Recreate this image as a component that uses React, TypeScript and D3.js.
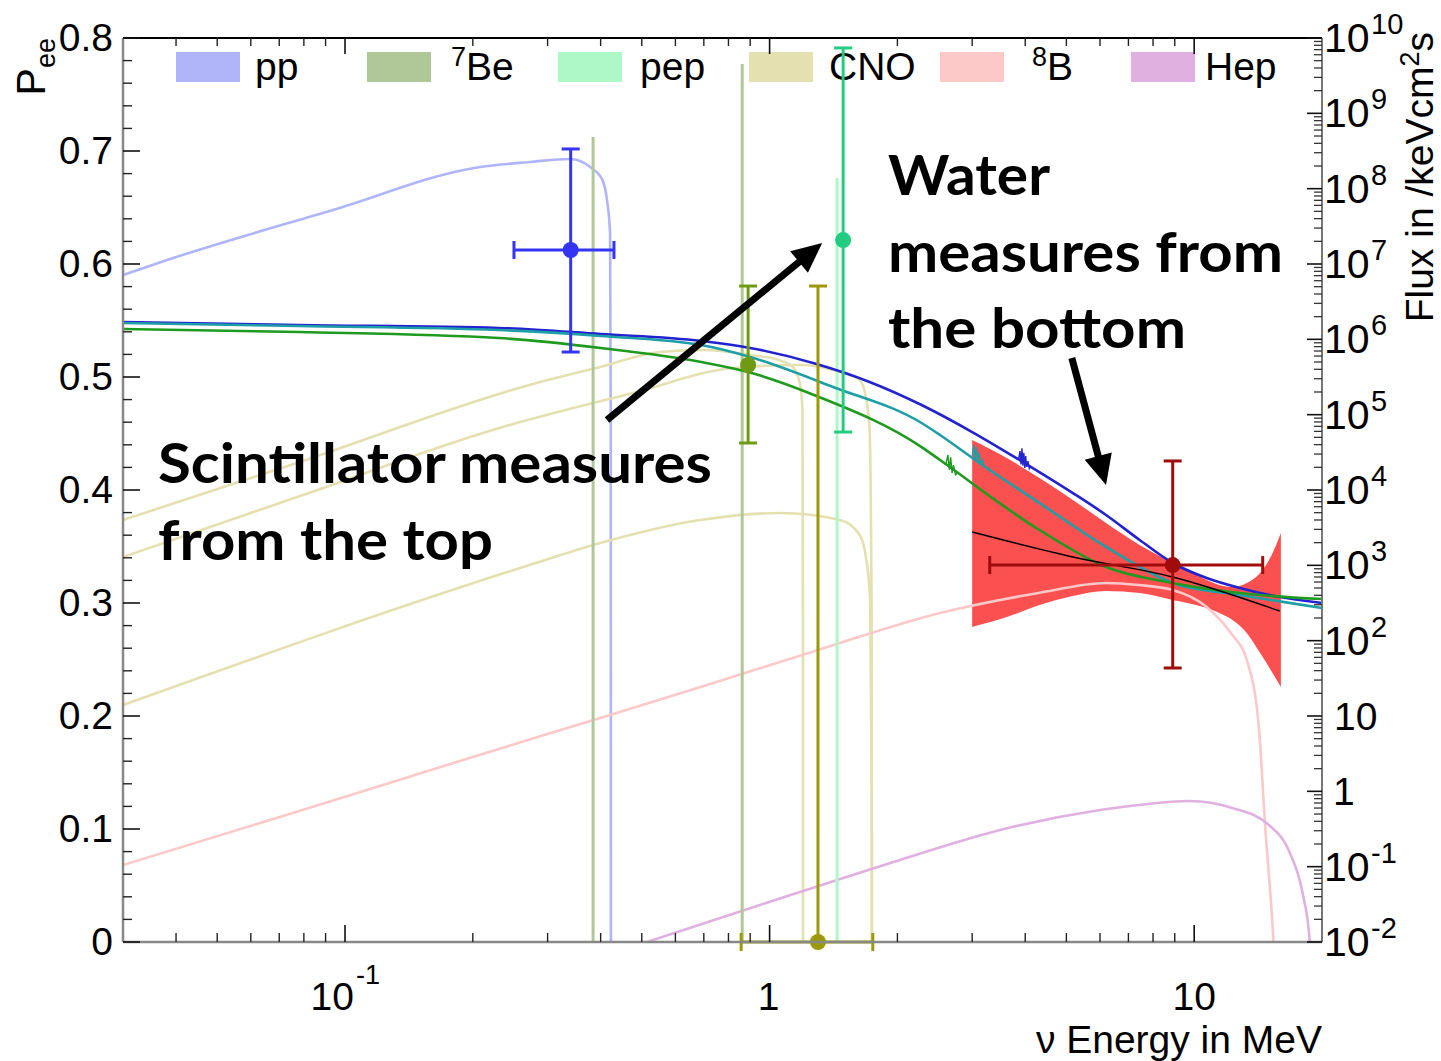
import React from "react";
import * as d3 from "d3";

// ---------- axes ----------
const energyDomain = [0.03, 20];
const peeDomain = [0, 0.8];
const fluxDomain = [1e-2, 1e10];
const energyMajorTicks = [0.1, 1, 10];
const peeMajorTicks = [0, 0.1, 0.2, 0.3, 0.4, 0.5, 0.6, 0.7, 0.8];
const fluxExponents = [-2, -1, 0, 1, 2, 3, 4, 5, 6, 7, 8, 9, 10];

// ---------- legend ----------
const legendNames = ["pp", "7Be", "pep", "CNO", "8B", "Hep"];
const legendColors = ["#b0b4f8", "#b0c898", "#aef8c8", "#e4e0b0", "#fcc8c8", "#e0b0e0"];

// ---------- flux spectra (E in MeV, flux) ----------
const ppEnergy = [0.03, 0.0381, 0.0937, 0.208, 0.273, 0.339, 0.378, 0.404, 0.414, 0.421, 0.4225, 0.423];
const ppFlux = [7.14e6, 1.13e7, 5.21e7, 1.94e8, 2.26e8, 2.48e8, 1.94e8, 1.3e8, 7.08e7, 2.58e7, 1e5, 1e-3];

const be7LineEnergy = [0.384, 0.862];
const be7LineFlux = [4.85e8, 4.5e9];
const pepLineEnergy = [1.442];
const pepLineFlux = [1.39e8];

const n13Energy = [0.03, 0.0783, 0.272, 0.399, 0.552, 0.7, 0.9, 1.05, 1.134, 1.178, 1.195, 1.1985, 1.199];
const n13Flux = [4.0e3, 2.36e4, 2.48e5, 4.3e5, 6.79e5, 7.22e5, 6.19e5, 5.32e5, 4.3e5, 2.63e5, 1.15e5, 1e2, 1e-3];

const o15Energy = [0.03, 0.0783, 0.231, 0.477, 0.82, 1.178, 1.41, 1.63, 1.69, 1.72, 1.74, 1.742];
const o15Flux = [1.29e3, 8.3e3, 6.65e4, 1.94e5, 4.17e5, 4.56e5, 3.92e5, 2.89e5, 1.57e5, 6.27e4, 1e2, 1e-3];

const f17Energy = [0.03, 0.272, 0.399, 0.686, 1.058, 1.465, 1.63, 1.69, 1.725, 1.74, 1.742];
const f17Flux = [14.0, 1.01e3, 1.98e3, 4.0e3, 4.95e3, 4.0e3, 2.53e3, 1.18e3, 347, 1, 1e-3];

const b8Energy = [0.03, 0.078, 0.2, 0.399, 0.7, 1.26, 2.52, 4.3, 6.2, 7.4, 8.9, 10.7, 12.2, 13.3, 14.2, 14.7, 15.3, 15.7];
const b8Flux = [0.105, 0.548, 2.86, 9.42, 25, 71, 233, 430, 583, 548, 471, 280, 126, 55.5, 7.14, 0.336, 0.0158, 1e-3];

const hepEnergy = [0.5, 0.949, 2.03, 3.49, 6.0, 7.4, 9.75, 12.3, 15.0, 16.8, 18.0, 18.7, 18.8];
const hepFlux = [0.0095, 0.031, 0.123, 0.307, 0.565, 0.659, 0.745, 0.601, 0.357, 0.152, 0.0447, 0.0107, 0.001];

// ---------- survival probability curves ----------
const blueE = [0.03, 0.078, 0.23, 0.4, 0.69, 0.9, 1.29, 1.72, 2.28, 3.0, 3.88, 5.18, 6.2, 7.44, 8.9, 10.7, 12.8, 15.9, 20];
const blueP = [0.5487, 0.546, 0.5434, 0.538, 0.5319, 0.5257, 0.5115, 0.4956, 0.4752, 0.4513, 0.4265, 0.3973, 0.3779, 0.3558, 0.3354, 0.3221, 0.3133, 0.3053, 0.3];
const tealE = [0.03, 0.078, 0.23, 0.4, 0.69, 0.9, 1.41, 2.28, 2.52, 3.12, 4.32, 6.2, 8.9, 12.8, 20];
const tealP = [0.5478, 0.5451, 0.5416, 0.5363, 0.5283, 0.5177, 0.4912, 0.4593, 0.4487, 0.4239, 0.3885, 0.3496, 0.3177, 0.3071, 0.2956];
const greenE = [0.03, 0.078, 0.23, 0.4, 0.69, 0.89, 1.29, 2.28, 2.52, 4.32, 6.2, 8.9, 12.8, 20];
const greenP = [0.5425, 0.5398, 0.5345, 0.5257, 0.5133, 0.5044, 0.4832, 0.438, 0.4265, 0.3646, 0.3319, 0.3177, 0.3088, 0.3035];
const blackE = [3.0, 5.18, 8.9, 15.9];
const blackP = [0.3628, 0.3407, 0.323, 0.2929];

// small noise wiggles seen on the curves
const blueSpikeE = [3.86, 3.89, 3.91, 3.93, 3.95, 3.97, 3.99, 4.01, 4.03, 4.06, 4.09, 4.12];
const blueSpikeP = [0.4275, 0.4345, 0.4225, 0.4370, 0.4215, 0.4330, 0.4195, 0.4300, 0.4205, 0.4255, 0.4190, 0.4215];
const tealSpikeE = [3.0, 3.03, 3.05, 3.07, 3.09, 3.11, 3.14, 3.17, 3.2];
const tealSpikeP = [0.4300, 0.4400, 0.4270, 0.4380, 0.4240, 0.4330, 0.4225, 0.4270, 0.4215];
const greenSpikeE = [2.6, 2.63, 2.65, 2.67, 2.69, 2.71, 2.74, 2.77];
const greenSpikeP = [0.4225, 0.4310, 0.4180, 0.4290, 0.4150, 0.4220, 0.4135, 0.4150];

// ---------- 8B band ----------
const bandE = [3.0, 3.62, 4.32, 5.18, 6.2, 7.44, 8.9, 9.93, 10.7, 11.7, 12.3, 13.3, 14.3, 15.3, 16.0];
const bandTop = [0.4442, 0.4283, 0.4106, 0.3912, 0.3708, 0.3513, 0.3354, 0.3265, 0.3204, 0.315, 0.3142, 0.3177, 0.3265, 0.3442, 0.3619];
const bandBottom = [0.2788, 0.2876, 0.2982, 0.3062, 0.3106, 0.3088, 0.3027, 0.299, 0.2956, 0.2895, 0.285, 0.2735, 0.2558, 0.2381, 0.2257];

// ---------- measurements ----------
const pointE = [0.34, 0.89, 1.49, 1.3, 8.9];
const pointP = [0.6124, 0.5106, 0.6212, 0.0, 0.3336];
const pointPHi = [0.7018, 0.5805, 0.7912, 0.5805, 0.4257];
const pointPLo = [0.5221, 0.4416, 0.4513, 0.0, 0.2425];
const pointELo: (number | null)[] = [0.25, null, null, 0.857, 3.3];
const pointEHi: (number | null)[] = [0.43, null, null, 1.75, 14.5];
const pointColors = ["#3434f4", "#6e9a14", "#22cc80", "#9c9a08", "#a00c0c"];

const W = 1441;
const H = 1061;
const L = 123, R = 1322, T = 38, B = 942;
const axisFont = "'Liberation Sans', Arial, Helvetica, sans-serif";
const annFont = "Lato, 'Open Sans', sans-serif";
const FS = 39;
const SFS = 27;

const zip = (a: number[], b: number[]) => a.map((v, i) => [v, b[i]] as [number, number]);

function Arrow({ x1, y1, x2, y2 }: { x1: number; y1: number; x2: number; y2: number }) {
  const ang = Math.atan2(y2 - y1, x2 - x1);
  const hl = 30, hw = 14;
  const bx = x2 - hl * Math.cos(ang);
  const by = y2 - hl * Math.sin(ang);
  const px = -Math.sin(ang) * hw;
  const py = Math.cos(ang) * hw;
  return (
    <g>
      <line x1={x1} y1={y1} x2={bx + Math.cos(ang) * 2} y2={by + Math.sin(ang) * 2} stroke="#000" strokeWidth={7} />
      <polygon points={`${x2},${y2} ${bx + px},${by + py} ${bx - px},${by - py}`} fill="#000" />
    </g>
  );
}

export default function App() {
  const x = d3.scaleLog().domain(energyDomain).range([L, R]);
  const yP = d3.scaleLinear().domain(peeDomain).range([B, T]);
  const yF = d3.scaleLog().domain(fluxDomain).range([B, T]);

  const fluxLine = d3
    .line<[number, number]>()
    .x((d) => x(d[0]))
    .y((d) => yF(d[1]))
    .curve(d3.curveMonotoneX);
  const peeLine = d3
    .line<[number, number]>()
    .x((d) => x(d[0]))
    .y((d) => yP(d[1]))
    .curve(d3.curveMonotoneX);
  const spikeLine = d3
    .line<[number, number]>()
    .x((d) => x(d[0]))
    .y((d) => yP(d[1]));
  const band = d3
    .area<number>()
    .x((_, i) => x(bandE[i]))
    .y0((_, i) => yP(bandBottom[i]))
    .y1((_, i) => yP(bandTop[i]))
    .curve(d3.curveMonotoneX);

  const eMinor: number[] = [];
  [0.01, 0.1, 1, 10].forEach((d) => {
    for (let k = 2; k <= 9; k++) {
      const v = k * d;
      if (v > energyDomain[0] * 1.001 && v < energyDomain[1] * 0.999) eMinor.push(v);
    }
  });
  const pMinor: number[] = [];
  for (let i = 0; i <= 40; i++) if (i % 5 !== 0) pMinor.push(i * 0.02);
  const fMinor: number[] = [];
  fluxExponents.slice(0, -1).forEach((e) => {
    for (let k = 2; k <= 9; k++) fMinor.push(k * Math.pow(10, e));
  });

  const fluxSeries = [
    { e: ppEnergy, f: ppFlux, c: legendColors[0] },
    { e: n13Energy, f: n13Flux, c: legendColors[3] },
    { e: o15Energy, f: o15Flux, c: legendColors[3] },
    { e: f17Energy, f: f17Flux, c: legendColors[3] },
    { e: b8Energy, f: b8Flux, c: legendColors[4] },
    { e: hepEnergy, f: hepFlux, c: legendColors[5] },
  ];

  const legendTextDx = [79, 84, 82, 80, 92, 74];

  return (
    <svg
      width={W}
      height={H}
      viewBox={`0 0 ${W} ${H}`}
      style={{ position: "absolute", left: 0, top: 0, background: "#fff" }}
      fontFamily={axisFont}
    >
      <defs>
        <clipPath id="plot">
          <rect x={L} y={T} width={R - L} height={B - T} />
        </clipPath>
      </defs>
      <rect x={0} y={0} width={W} height={H} fill="#fff" />

      {/* legend */}
      {legendNames.map((n, i) => {
        const bx = 176 + i * 191;
        const tx = bx + legendTextDx[i];
        const sup = n === "7Be" || n === "8B";
        return (
          <g key={n}>
            <rect x={bx} y={52} width={64} height={30} fill={legendColors[i]} />
            {sup ? (
              <text x={tx} y={80} fontSize={FS}>
                <tspan fontSize={SFS} dy={-14}>{n[0]}</tspan>
                <tspan dy={14} fontSize={FS}>{n.slice(1)}</tspan>
              </text>
            ) : (
              <text x={tx} y={80} fontSize={FS}>{n}</text>
            )}
          </g>
        );
      })}

      <g clipPath="url(#plot)">
        <path d={band(bandE) || ""} fill="#fa5050" />

        {fluxSeries.map((s, i) => (
          <path key={i} d={fluxLine(zip(s.e, s.f)) || ""} fill="none" stroke={s.c} strokeWidth={2.6} />
        ))}
        {be7LineEnergy.map((e, i) => (
          <line key={"be" + i} x1={x(e)} x2={x(e)} y1={B + 5} y2={yF(be7LineFlux[i])} stroke={legendColors[1]} strokeWidth={3} />
        ))}
        {pepLineEnergy.map((e, i) => (
          <line key={"pep" + i} x1={x(e)} x2={x(e)} y1={B + 5} y2={yF(pepLineFlux[i])} stroke={legendColors[2]} strokeWidth={3} />
        ))}

        <path d={peeLine(zip(blueE, blueP)) || ""} fill="none" stroke="#2222d0" strokeWidth={2.6} />
        <path d={spikeLine(zip(blueSpikeE, blueSpikeP)) || ""} fill="none" stroke="#2222d0" strokeWidth={1.4} />
        <path d={peeLine(zip(tealE, tealP)) || ""} fill="none" stroke="#1e9ea6" strokeWidth={2.6} />
        <path d={spikeLine(zip(tealSpikeE, tealSpikeP)) || ""} fill="none" stroke="#1e9ea6" strokeWidth={1.4} />
        <path d={peeLine(zip(greenE, greenP)) || ""} fill="none" stroke="#1e9a1e" strokeWidth={2.6} />
        <path d={spikeLine(zip(greenSpikeE, greenSpikeP)) || ""} fill="none" stroke="#1e9a1e" strokeWidth={1.4} />
        <path d={peeLine(zip(blackE, blackP)) || ""} fill="none" stroke="#000" strokeWidth={1.4} />
      </g>

      {/* measurements */}
      {pointE.map((e, i) => {
        const c = pointColors[i];
        const cx = x(e);
        const cy = yP(pointP[i]);
        const yh = yP(pointPHi[i]);
        const yl = yP(pointPLo[i]);
        const lo = pointELo[i];
        const hi = pointEHi[i];
        return (
          <g key={"pt" + i} stroke={c} strokeWidth={3} fill={c}>
            <line x1={cx} x2={cx} y1={yh} y2={yl} />
            <line x1={cx - 9} x2={cx + 9} y1={yh} y2={yh} />
            {pointPLo[i] > 0 && <line x1={cx - 9} x2={cx + 9} y1={yl} y2={yl} />}
            {lo !== null && hi !== null && (
              <g>
                <line x1={x(lo)} x2={x(hi)} y1={cy} y2={cy} />
                <line x1={x(lo)} x2={x(lo)} y1={cy - 9} y2={cy + 9} />
                <line x1={x(hi)} x2={x(hi)} y1={cy - 9} y2={cy + 9} />
              </g>
            )}
            <circle cx={cx} cy={cy} r={8} stroke="none" />
          </g>
        );
      })}

      {/* frame */}
      <line x1={L} x2={R} y1={T} y2={T} stroke="#000" strokeWidth={2} />
      <line x1={L} x2={L} y1={T} y2={B} stroke="#888" strokeWidth={2.5} />
      <line x1={L} x2={R} y1={B} y2={B} stroke="#888" strokeWidth={2.5} />
      <line x1={R} x2={R} y1={T} y2={B} stroke="#777" strokeWidth={2} />

      {/* left axis */}
      {peeMajorTicks.map((v) => (
        <g key={"pm" + v}>
          <line x1={L} x2={L + 17} y1={yP(v)} y2={yP(v)} stroke="#111" strokeWidth={1.6} />
          <text x={113} y={yP(v) + 13} fontSize={FS} textAnchor="end">
            {v === 0 ? "0" : v.toFixed(1)}
          </text>
        </g>
      ))}
      {pMinor.map((v) => (
        <line key={"pn" + v} x1={L} x2={L + 9} y1={yP(v)} y2={yP(v)} stroke="#222" strokeWidth={1.4} />
      ))}
      <text transform={`translate(45,38) rotate(-90)`} fontSize={41} textAnchor="end">
        P<tspan fontSize={27} dy={10}>ee</tspan>
      </text>

      {/* bottom / top axis */}
      {energyMajorTicks.map((v) => (
        <g key={"em" + v}>
          <line x1={x(v)} x2={x(v)} y1={B} y2={B - 17} stroke="#111" strokeWidth={1.6} />
          <line x1={x(v)} x2={x(v)} y1={T} y2={T + 16} stroke="#111" strokeWidth={1.6} />
        </g>
      ))}
      {eMinor.map((v) => (
        <g key={"en" + v}>
          <line x1={x(v)} x2={x(v)} y1={B} y2={B - 9} stroke="#222" strokeWidth={1.4} />
          <line x1={x(v)} x2={x(v)} y1={T} y2={T + 8} stroke="#222" strokeWidth={1.4} />
        </g>
      ))}
      <text x={x(0.1) + 9} y={1010} fontSize={FS} textAnchor="end">10</text>
      <text x={x(0.1) + 11} y={984} fontSize={SFS}>-1</text>
      <text x={x(1) - 1} y={1010} fontSize={FS} textAnchor="middle">1</text>
      <text x={x(10)} y={1010} fontSize={FS} textAnchor="middle">10</text>
      <text x={R} y={1053} fontSize={FS} textAnchor="end">ν Energy in MeV</text>

      {/* right axis */}
      {fluxExponents.map((e) => {
        const v = Math.pow(10, e);
        const ty = yF(v);
        return (
          <g key={"fm" + e}>
            <line x1={R} x2={R - 15} y1={ty} y2={ty} stroke="#111" strokeWidth={1.6} />
            {e === 0 ? (
              <text x={1333} y={ty + 14} fontSize={FS}>1</text>
            ) : e === 1 ? (
              <text x={1334} y={ty + 14} fontSize={FS}>10</text>
            ) : (
              <g>
                <text x={1324} y={ty + 14} fontSize={41}>10</text>
                <text x={1371} y={ty - 4} fontSize={29}>{String(e)}</text>
              </g>
            )}
          </g>
        );
      })}
      {fMinor.map((v, i) => (
        <line key={"fn" + i} x1={R} x2={R - 8} y1={yF(v)} y2={yF(v)} stroke="#333" strokeWidth={1.3} />
      ))}
      <text transform={`translate(1433,32) rotate(-90)`} fontSize={FS} textAnchor="end">
        Flux in /keVcm<tspan fontSize={SFS} dy={-14}>2</tspan>
        <tspan dy={14}>s</tspan>
      </text>

      {/* annotations */}
      <Arrow x1={x(0.414)} y1={yP(0.462)} x2={x(1.33)} y2={yP(0.6186)} />
      <Arrow x1={x(5.15)} y1={yP(0.5168)} x2={x(6.2)} y2={yP(0.4044)} />
      <g fontFamily={annFont} fontWeight={700} fontSize={56}>
        <text x={888} y={195} textLength={162} lengthAdjust="spacingAndGlyphs">Water</text>
        <text x={888} y={272} textLength={395} lengthAdjust="spacingAndGlyphs">measures from</text>
        <text x={888} y={348} textLength={298} lengthAdjust="spacingAndGlyphs">the bottom</text>
        <text x={158} y={483} textLength={554} lengthAdjust="spacingAndGlyphs">Scintillator measures</text>
        <text x={158} y={560} textLength={335} lengthAdjust="spacingAndGlyphs">from the top</text>
      </g>
    </svg>
  );
}
